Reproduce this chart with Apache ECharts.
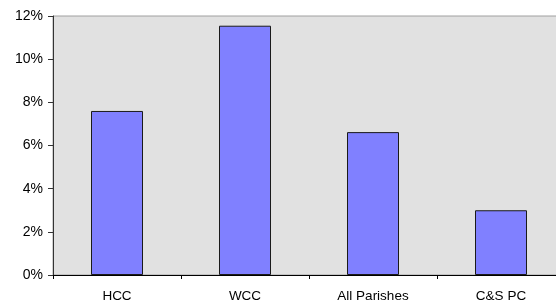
<!DOCTYPE html>
<html>
<head>
<meta charset="utf-8">
<script src="https://cdn.jsdelivr.net/npm/echarts@6/dist/echarts.min.js"></script>
<style>
  html, body { margin: 0; padding: 0; background: #fff; }
  #c { width: 556px; height: 306px; }
</style>
</head>
<body>
<div id="c"></div>
<script>
const categories = ["HCC", "WCC", "All Parishes", "C&S PC"];
const values = [7.6, 11.55, 6.62, 3.0];
const yTicks = [0, 2, 4, 6, 8, 10, 12];

const chart = echarts.init(document.getElementById("c"), null, { renderer: "canvas" });
chart.setOption({
  animation: false,
  grid: {
    left: 53, top: 16, width: 512, height: 259, outerBoundsMode: "none", containLabel: false,
    show: true, backgroundColor: "#e1e1e1", borderColor: "#a0a0a0", borderWidth: 1
  },
  xAxis: {
    type: "category", data: categories,
    axisLine: { lineStyle: { color: "#000", width: 1 } },
    axisTick: { show: true, length: 4, lineStyle: { color: "#000" } },
    axisLabel: { color: "#000", fontFamily: "Liberation Sans", fontSize: 13.5, margin: 14 }
  },
  yAxis: {
    type: "value", min: yTicks[0], max: yTicks[yTicks.length - 1], interval: 2,
    axisLine: { show: true, lineStyle: { color: "#333", width: 1 } },
    axisTick: { show: true, length: 5, lineStyle: { color: "#333" } },
    splitLine: { show: false },
    axisLabel: { color: "#000", fontFamily: "Liberation Sans", fontSize: 14, margin: 10, formatter: v => v + "%" }
  },
  series: [{
    type: "bar", data: values, barWidth: 52,
    itemStyle: { color: "#8080ff", borderColor: "#1a1a1a", borderWidth: 1 }
  }]
});
</script>
</body>
</html>
